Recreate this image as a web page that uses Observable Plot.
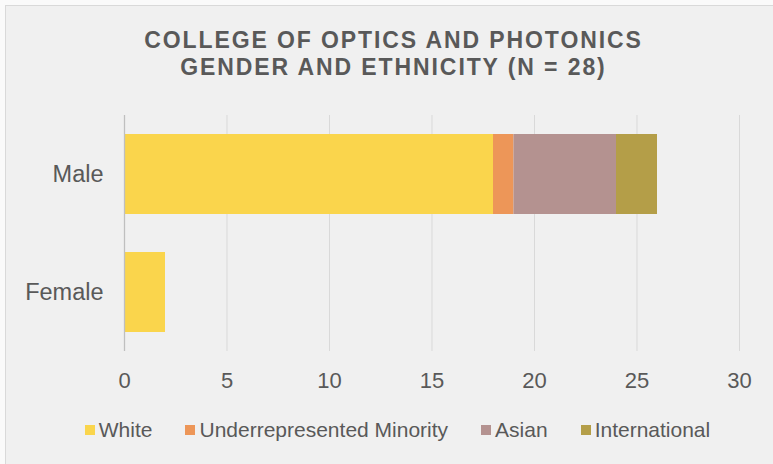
<!DOCTYPE html>
<html>
<head>
<meta charset="utf-8">
<script src="https://cdn.jsdelivr.net/npm/d3@7"></script>
<script src="https://cdn.jsdelivr.net/npm/@observablehq/plot@0.6"></script>
<style>
  html, body { margin: 0; padding: 0; background: #fafafa; }
  #wrap { position: relative; width: 773px; height: 464px; overflow: hidden; background: #fafafa;
          font-family: "Liberation Sans", Arial, sans-serif; }
  #panel { position: absolute; left: 5px; top: 5px; width: 780px; height: 470px;
           background: #f0f0f0; border-left: 1px solid #d9d9d9; border-top: 1px solid #d9d9d9; }
  #chart { position: absolute; left: 0; top: 0; }
  #title { position: absolute; left: 7px; top: 27px; width: 773px; text-align: center;
           font-size: 23px; font-weight: bold; line-height: 27px; letter-spacing: 1.9px; color: #595959; }
  #legend { position: absolute; left: 0; top: 417px; width: 773px; padding-left: 22px; box-sizing: border-box;
            display: flex; justify-content: center; align-items: center; gap: 33px;
            font-size: 21px; color: #595959; line-height: 26px; }
  .item { display: flex; align-items: center; white-space: nowrap; }
  .sw { width: 10px; height: 10px; margin-right: 4px; }
</style>
</head>
<body>
<div id="wrap">
  <div id="panel"></div>
  <div id="chart"></div>
  <div id="title">COLLEGE OF OPTICS AND PHOTONICS<br>GENDER AND ETHNICITY (N = 28)</div>
  <div id="legend"></div>
</div>
<script>
const genders = ["Male", "Female"];
const ethnicities = ["White", "Underrepresented Minority", "Asian", "International"];
const white = [18, 2];
const urm = [1, 0];
const asian = [5, 0];
const international = [2, 0];
const colors = ["#fad54c", "#ed9658", "#b49290", "#b49e48"];
const xTicks = [0, 5, 10, 15, 20, 25, 30];

const series = [white, urm, asian, international];
const rows = [];
genders.forEach((g, gi) => {
  ethnicities.forEach((e, ei) => {
    const v = series[ei][gi];
    if (v > 0) rows.push({gender: g, ethnicity: e, value: v});
  });
});

const chart = Plot.plot({
  width: 773,
  height: 464,
  marginLeft: 124,
  marginRight: 34,
  marginTop: 115,
  marginBottom: 113,
  style: {background: "transparent", color: "#595959", fontFamily: "'Liberation Sans', Arial, sans-serif"},
  x: {domain: [0, 30], ticks: xTicks},
  y: {domain: genders, paddingInner: 0.322, paddingOuter: 0.161},
  color: {domain: ethnicities, range: colors},
  marks: [
    Plot.gridX(xTicks.filter(d => d > 0), {stroke: "#d9d9d9", strokeOpacity: 1, strokeWidth: 1}),
    Plot.barX(rows, {x: "value", y: "gender", fill: "ethnicity", order: ethnicities}),
    Plot.ruleX([0], {stroke: "#bfbfbf", strokeWidth: 1.3}),
    Plot.axisX(xTicks, {tickSize: 0, tickPadding: 21, fontSize: 22, label: null}),
    Plot.axisY({tickSize: 0, tickPadding: 21, fontSize: 23.5, label: null})
  ]
});
document.getElementById("chart").appendChild(chart);

const legend = document.getElementById("legend");
ethnicities.forEach((e, i) => {
  const item = document.createElement("div");
  item.className = "item";
  const sw = document.createElement("span");
  sw.className = "sw";
  sw.style.background = colors[i];
  const t = document.createElement("span");
  t.textContent = e;
  item.appendChild(sw);
  item.appendChild(t);
  legend.appendChild(item);
});
</script>
</body>
</html>
